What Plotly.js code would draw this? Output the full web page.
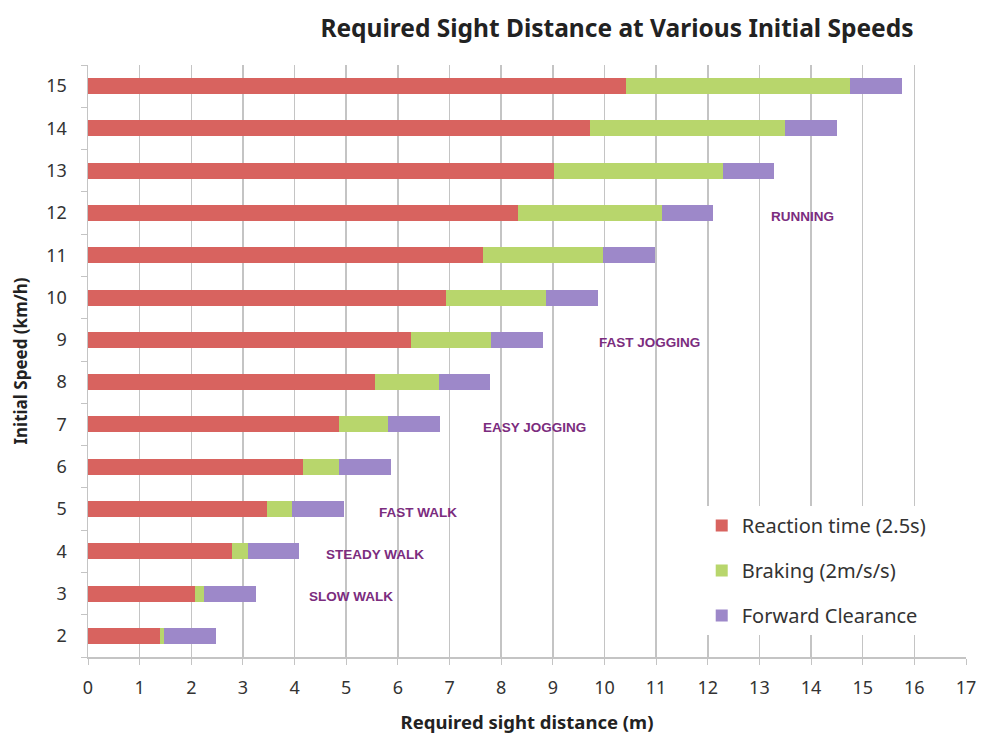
<!DOCTYPE html>
<html>
<head>
<meta charset="utf-8">
<script src="https://cdn.plot.ly/plotly-3.0.1.min.js"></script>
<style>html,body{margin:0;padding:0;background:#fff;}#chart{width:984px;height:737px;}</style>
</head>
<body>
<div id="chart"></div>
<script>
var speeds = ["2","3","4","5","6","7","8","9","10","11","12","13","14","15"];
var reactionTime = [1.39,2.08,2.78,3.47,4.17,4.86,5.56,6.25,6.94,7.64,8.33,9.03,9.72,10.42];
var braking = [0.08,0.17,0.31,0.48,0.69,0.95,1.23,1.56,1.93,2.33,2.78,3.26,3.78,4.34];
var forwardClearance = [1,1,1,1,1,1,1,1,1,1,1,1,1,1];
var seriesNames = ["Reaction time (2.5s)","Braking (2m/s/s)","Forward Clearance"];
var labelTexts = ["RUNNING","FAST JOGGING","EASY JOGGING","FAST WALK","STEADY WALK","SLOW WALK"];
var labelX = [13.84,10.88,8.65,6.39,5.56,5.09];
var labelY = ["12","9","7","5","4","3"];
var xTicks = [0,1,2,3,4,5,6,7,8,9,10,11,12,13,14,15,16,17];

var colors = ["#d8635f","#b8d66c","#9d88c9"];
var series = [reactionTime, braking, forwardClearance];
var traces = series.map(function(vals, i){
  return {
    type: "bar", orientation: "h",
    y: speeds, x: vals, name: seriesNames[i],
    legendgroup: "g"+i,
    marker: {color: colors[i], line: {width: 0}},
    hoverinfo: "x+y+name"
  };
});

var annotations = labelTexts.map(function(t, i){
  return {
    x: labelX[i], y: speeds.indexOf(labelY[i]), xref: "x", yref: "y",
    text: "<b>" + t + "</b>", showarrow: false, yshift: -3,
    font: {family: "Liberation Sans, Arial, sans-serif", size: 13.5, color: "#7b2c7e"}
  };
});

var layout = {
  width: 984, height: 737,
  margin: {l: 88, r: 18, t: 65, b: 80},
  paper_bgcolor: "#ffffff", plot_bgcolor: "#ffffff",
  barmode: "stack", bargap: 0.62,
  font: {family: "Noto Sans, Open Sans, sans-serif", color: "#333333"},
  title: {
    text: "<b>Required Sight Distance at Various Initial Speeds</b>",
    font: {size: 24.5, color: "#222222"},
    x: 0.627, xanchor: "center", y: 0.962, yanchor: "middle"
  },
  xaxis: {
    range: [0, 17], tickvals: xTicks, ticktext: xTicks.map(String),
    showgrid: true, gridcolor: "#c4c4c4", gridwidth: 1.5,
    zeroline: false, showline: true, linecolor: "#c4c4c4", linewidth: 1.5,
    ticks: "outside", ticklen: 6, tickcolor: "#c4c4c4",
    ticklabelstandoff: 8,
    tickfont: {size: 18, color: "#333333"},
    title: {text: "<b>Required sight distance (m)</b>", font: {size: 18.5, color: "#222222"}, standoff: 18},
    fixedrange: true
  },
  yaxis: {
    type: "category", categoryorder: "array", categoryarray: speeds,
    showgrid: false, zeroline: false, showline: true, linecolor: "#c4c4c4", linewidth: 1.5,
    ticks: "outside", tickson: "boundaries", ticklen: 6, tickcolor: "#c4c4c4",
    ticklabelstandoff: 16,
    tickfont: {size: 18, color: "#333333"},
    title: {text: "<b>Initial Speed (km/h)</b>", font: {size: 17, color: "#222222"}, standoff: 14},
    fixedrange: true
  },
  legend: {
    x: 0.699, y: 0.255, xanchor: "left", yanchor: "top",
    bgcolor: "#ffffff", borderwidth: 0,
    traceorder: "grouped", tracegroupgap: 16,
    font: {size: 20, color: "#333333"}
  },
  annotations: annotations,
  showlegend: true
};

Plotly.newPlot("chart", traces, layout, {displayModeBar: false, staticPlot: true});
</script>
</body>
</html>
